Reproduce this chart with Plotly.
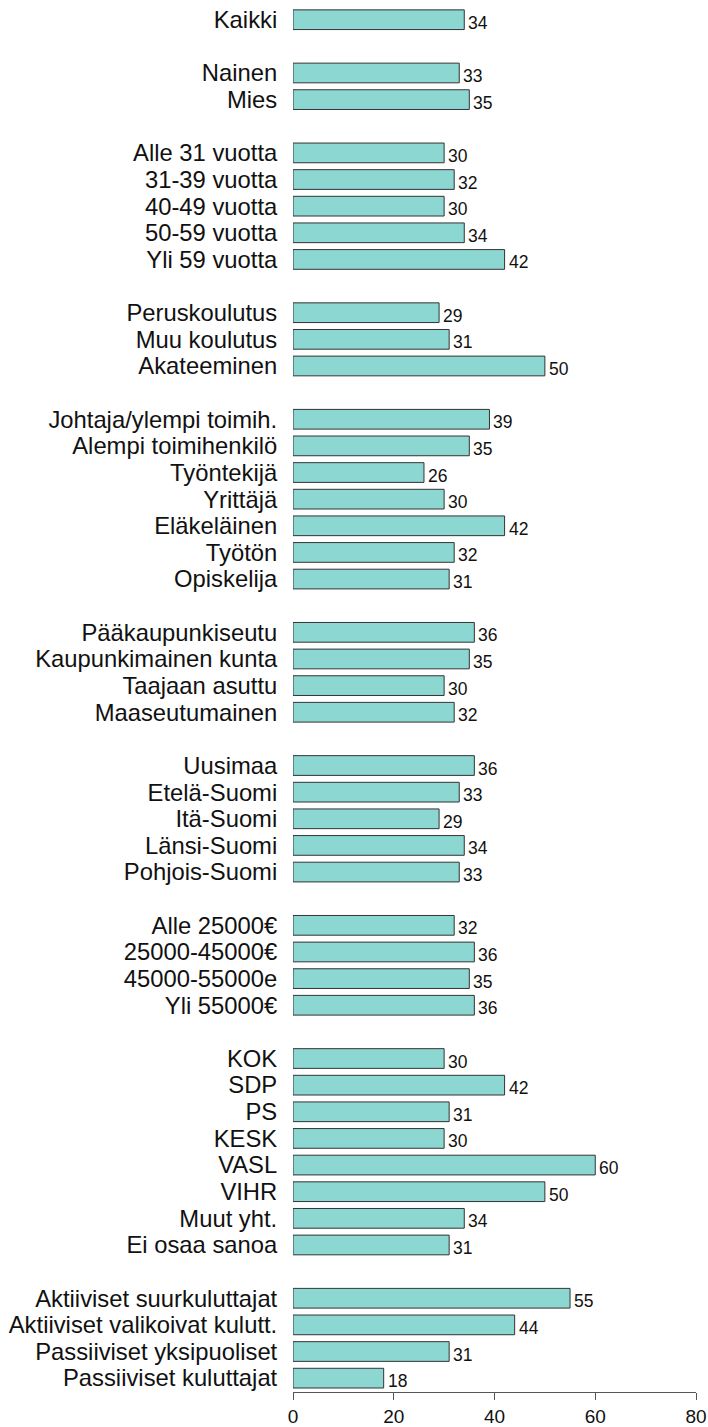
import plotly.graph_objects as go

# Survey results by respondent group (percent)
total_labels = ["Kaikki"]
total_values = [34]

gender_labels = ["Nainen", "Mies"]
gender_values = [33, 35]

age_labels = ["Alle 31 vuotta", "31-39 vuotta", "40-49 vuotta", "50-59 vuotta", "Yli 59 vuotta"]
age_values = [30, 32, 30, 34, 42]

education_labels = ["Peruskoulutus", "Muu koulutus", "Akateeminen"]
education_values = [29, 31, 50]

occupation_labels = ["Johtaja/ylempi toimih.", "Alempi toimihenkilö", "Työntekijä", "Yrittäjä",
                     "Eläkeläinen", "Työtön", "Opiskelija"]
occupation_values = [39, 35, 26, 30, 42, 32, 31]

municipality_labels = ["Pääkaupunkiseutu", "Kaupunkimainen kunta", "Taajaan asuttu", "Maaseutumainen"]
municipality_values = [36, 35, 30, 32]

region_labels = ["Uusimaa", "Etelä-Suomi", "Itä-Suomi", "Länsi-Suomi", "Pohjois-Suomi"]
region_values = [36, 33, 29, 34, 33]

income_labels = ["Alle 25000€", "25000-45000€", "45000-55000e", "Yli 55000€"]
income_values = [32, 36, 35, 36]

party_labels = ["KOK", "SDP", "PS", "KESK", "VASL", "VIHR", "Muut yht.", "Ei osaa sanoa"]
party_values = [30, 42, 31, 30, 60, 50, 34, 31]

consumer_labels = ["Aktiiviset suurkuluttajat", "Aktiiviset valikoivat kulutt.",
                   "Passiiviset yksipuoliset", "Passiiviset kuluttajat"]
consumer_values = [55, 44, 31, 18]

x_ticks = [0, 20, 40, 60, 80]

groups = [
    (total_labels, total_values),
    (gender_labels, gender_values),
    (age_labels, age_values),
    (education_labels, education_values),
    (occupation_labels, occupation_values),
    (municipality_labels, municipality_values),
    (region_labels, region_values),
    (income_labels, income_values),
    (party_labels, party_values),
    (consumer_labels, consumer_values),
]

# Lay rows out top to bottom, leaving one empty row between groups
labels, values, rows = [], [], []
row = 0
for g_labels, g_values in groups:
    for lab, val in zip(g_labels, g_values):
        labels.append(lab)
        values.append(val)
        rows.append(row)
        row += 1
    row += 1
last_row = rows[-1]

FONT = "Liberation Sans, Arial, sans-serif"

fig = go.Figure(
    go.Bar(
        x=values,
        y=rows,
        orientation="h",
        width=0.74,
        marker=dict(color="#8cd7d2", line=dict(color="#333333", width=1)),
        hoverinfo="skip",
    )
)

for v, r in zip(values, rows):
    fig.add_annotation(
        x=v, y=r, text=str(v), showarrow=False,
        xanchor="left", yanchor="middle", xshift=2, yshift=-3,
        font=dict(family=FONT, size=17.5, color="#111111"),
    )

fig.update_layout(
    width=708,
    height=1427,
    margin=dict(l=293, r=12, t=0, b=31),
    paper_bgcolor="white",
    plot_bgcolor="white",
    showlegend=False,
    font=dict(family=FONT, color="#111111"),
)

fig.update_xaxes(
    range=[0, 80],
    tickvals=x_ticks,
    ticktext=[str(t) for t in x_ticks],
    showgrid=False,
    zeroline=False,
    showline=True,
    linecolor="#555555",
    linewidth=1,
    ticks="outside",
    ticklen=7,
    tickcolor="#555555",
    tickfont=dict(family=FONT, size=19, color="#111111"),
)

fig.update_yaxes(
    range=[last_row + 0.52, -0.74],
    tickvals=rows,
    ticktext=labels,
    showgrid=False,
    zeroline=False,
    showline=False,
    ticks="outside",
    ticklen=10,
    tickcolor="rgba(0,0,0,0)",
    tickfont=dict(family=FONT, size=23.8, color="#111111"),
)

fig.write_html("out.html")
